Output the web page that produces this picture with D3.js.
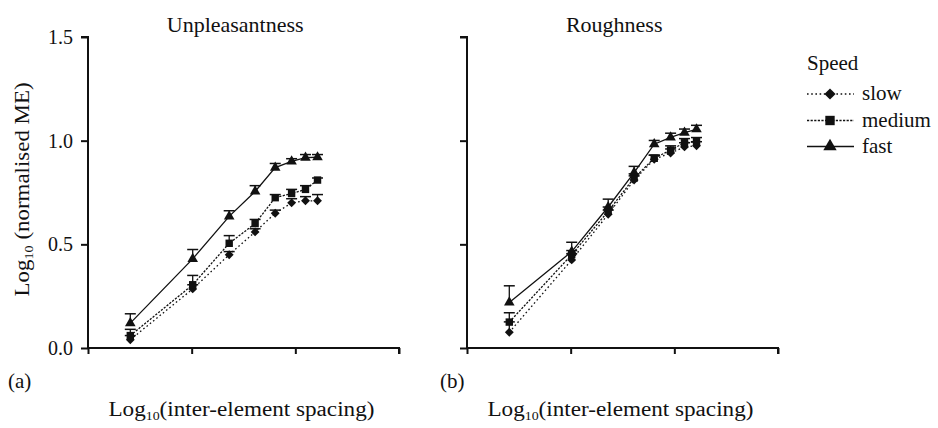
<!DOCTYPE html>
<html>
<head>
<meta charset="utf-8">
<script src="https://cdn.jsdelivr.net/npm/d3@7"></script>
<style>
    body { margin: 0; background: #fff; }
</style>
</head>
<body>
<div id="chart"></div>
<script>
// Log10 of inter-element spacing (shared by both panels)
const spacingLog = [0.204, 0.505, 0.681, 0.806, 0.903, 0.982, 1.049, 1.107];
const yTicks = [0.0, 0.5, 1.0, 1.5];
const xTicks = [0, 0.5, 1.0, 1.5];

// Panel (a) Unpleasantness
const unpSlow = [0.04, 0.285, 0.45, 0.56, 0.65, 0.70, 0.71, 0.71];
const unpSlowErr = [0.02, 0.02, 0.015, 0.015, 0.015, 0.02, 0.02, 0.03];
const unpMedium = [0.06, 0.305, 0.505, 0.60, 0.725, 0.745, 0.765, 0.81];
const unpMediumErr = [0.03, 0.045, 0.037, 0.02, 0.015, 0.02, 0.018, 0.01];
const unpFast = [0.12, 0.43, 0.635, 0.755, 0.87, 0.90, 0.918, 0.92];
const unpFastErr = [0.045, 0.045, 0.027, 0.028, 0.02, 0.013, 0.015, 0.013];

// Panel (b) Roughness
const rouSlow = [0.076, 0.425, 0.645, 0.81, 0.91, 0.94, 0.97, 0.975];
const rouSlowErr = [0.05, 0.03, 0.02, 0.02, 0.02, 0.02, 0.02, 0.02];
const rouMedium = [0.125, 0.45, 0.66, 0.82, 0.915, 0.955, 0.99, 0.995];
const rouMediumErr = [0.045, 0.02, 0.02, 0.02, 0.015, 0.02, 0.02, 0.02];
const rouFast = [0.22, 0.465, 0.68, 0.846, 0.983, 1.016, 1.039, 1.055];
const rouFastErr = [0.08, 0.045, 0.038, 0.03, 0.018, 0.02, 0.017, 0.019];

const speeds = ['slow', 'medium', 'fast'];

const FONT = 'Liberation Serif';
const INK = '#111';

const styles = {
    slow:   { dash: '1.6,2.6', symbol: d3.symbolDiamond2, size: 50 },
    medium: { dash: '2.2,1.4', symbol: d3.symbolSquare2, size: 70 },
    fast:   { dash: null,      symbol: d3.symbolTriangle2, size: 80 }
};

const W = 938, H = 428;
const svg = d3.select('#chart').append('svg')
    .attr('width', W)
    .attr('height', H)
    .attr('font-family', FONT);

const y = d3.scaleLinear().domain([0, 1.5]).range([348, 37]);

// Text helper with "Log" + subscript "10" + rest
function logLabel(sel, size, subSize, rest) {
    sel.append('tspan').text('Log');
    sel.append('tspan').attr('font-size', subSize).attr('dy', 4).text('10');
    sel.append('tspan').attr('dy', -4).text(rest);
}

// Draw one panel
function drawPanel(opts) {
    const x = d3.scaleLinear().domain([0, 1.5]).range([opts.left, opts.left + 311]);
    const g = svg.append('g');

    // y axis
    const yAxis = d3.axisLeft(y).tickValues(yTicks).tickSize(7).tickPadding(8)
        .tickFormat(opts.labels ? d3.format('.1f') : '');
    const ya = g.append('g').attr('transform', `translate(${opts.left},0)`).call(yAxis);
    ya.select('.domain').attr('d', `M-7,${y(1.5)}H0V${y(0)}`);

    // x axis
    const xAxis = d3.axisBottom(x).tickValues(xTicks).tickSize(6).tickFormat('');
    const xa = g.append('g').attr('transform', `translate(0,${y(0)})`).call(xAxis);
    xa.select('.domain').attr('d', `M${x(0)},0H${x(1.5)}V6`);

    g.selectAll('.domain, .tick line').attr('stroke', INK).attr('stroke-width', 2);
    g.selectAll('g').attr('font-family', FONT);
    g.selectAll('.tick text').attr('font-size', 20).attr('fill', INK)
        .attr('font-family', FONT);

    // title
    g.append('text')
        .attr('x', x(0.71))
        .attr('y', 32)
        .attr('text-anchor', 'middle')
        .attr('font-family', FONT)
        .attr('font-size', 22)
        .attr('fill', INK)
        .text(opts.title);

    // x axis title
    const xt = g.append('text')
        .attr('x', x(0.74) - 133)
        .attr('y', 416)
        .attr('font-family', FONT)
        .attr('font-size', 20)
        .attr('fill', INK)
        .attr('textLength', 266)
        .attr('lengthAdjust', 'spacingAndGlyphs');
    logLabel(xt, 20, 12, '(inter-element  spacing)');

    // panel letter
    g.append('text')
        .attr('x', opts.letterX)
        .attr('y', 388)
        .attr('font-family', FONT)
        .attr('font-size', 21)
        .attr('fill', INK)
        .text(opts.letter);

    const line = d3.line()
        .x((d, i) => x(spacingLog[i]))
        .y(d => y(d));

    speeds.forEach(s => {
        const vals = opts.series[s].v;
        const errs = opts.series[s].e;
        const st = styles[s];

        // upper error bars
        const eb = g.append('g');
        vals.forEach((v, i) => {
            const cx = x(spacingLog[i]);
            eb.append('line')
                .attr('x1', cx).attr('x2', cx)
                .attr('y1', y(v)).attr('y2', y(v + errs[i]))
                .attr('stroke', INK).attr('stroke-width', 1.3);
            eb.append('line')
                .attr('x1', cx - 5.5).attr('x2', cx + 5.5)
                .attr('y1', y(v + errs[i])).attr('y2', y(v + errs[i]))
                .attr('stroke', INK).attr('stroke-width', 1.5);
        });

        g.append('path')
            .datum(vals)
            .attr('d', line)
            .attr('fill', 'none')
            .attr('stroke', INK)
            .attr('stroke-width', 1.3)
            .attr('stroke-dasharray', st.dash);

        g.selectAll(null)
            .data(vals)
            .enter()
            .append('path')
            .attr('transform', (d, i) => `translate(${x(spacingLog[i])},${y(d)})`)
            .attr('d', d3.symbol().type(st.symbol).size(st.size))
            .attr('fill', INK);
    });
}

drawPanel({
    left: 88, title: 'Unpleasantness', letter: '(a)', letterX: 8, labels: true,
    series: {
        slow: { v: unpSlow, e: unpSlowErr },
        medium: { v: unpMedium, e: unpMediumErr },
        fast: { v: unpFast, e: unpFastErr }
    }
});

drawPanel({
    left: 467, title: 'Roughness', letter: '(b)', letterX: 440, labels: false,
    series: {
        slow: { v: rouSlow, e: rouSlowErr },
        medium: { v: rouMedium, e: rouMediumErr },
        fast: { v: rouFast, e: rouFastErr }
    }
});

// y axis title
const yt = svg.append('text')
    .attr('transform', `translate(29,${y(0.765) + 107}) rotate(-90)`)
    .attr('font-family', FONT)
    .attr('font-size', 21)
    .attr('fill', INK)
    .attr('textLength', 214)
    .attr('lengthAdjust', 'spacingAndGlyphs');
logLabel(yt, 21, 13, ' (normalised ME)');

// Legend
const legend = svg.append('g').attr('transform', 'translate(807,0)');
legend.append('text')
    .attr('x', 0).attr('y', 70)
    .attr('font-family', FONT)
    .attr('font-size', 21)
    .attr('fill', INK)
    .text('Speed');

const legendRows = [94, 120.5, 146.5];
speeds.forEach((s, i) => {
    const st = styles[s];
    const row = legend.append('g').attr('transform', `translate(0,${legendRows[i]})`);
    row.append('line')
        .attr('x1', 0).attr('x2', 47)
        .attr('stroke', INK)
        .attr('stroke-width', 1.3)
        .attr('stroke-dasharray', st.dash);
    row.append('path')
        .attr('transform', 'translate(23,0)')
        .attr('d', d3.symbol().type(st.symbol).size(st.size * 1.6))
        .attr('fill', INK);
    row.append('text')
        .attr('x', 55).attr('y', 6)
        .attr('font-family', FONT)
        .attr('font-size', 21)
        .attr('fill', INK)
        .text(s);
});
</script>
</body>
</html>
